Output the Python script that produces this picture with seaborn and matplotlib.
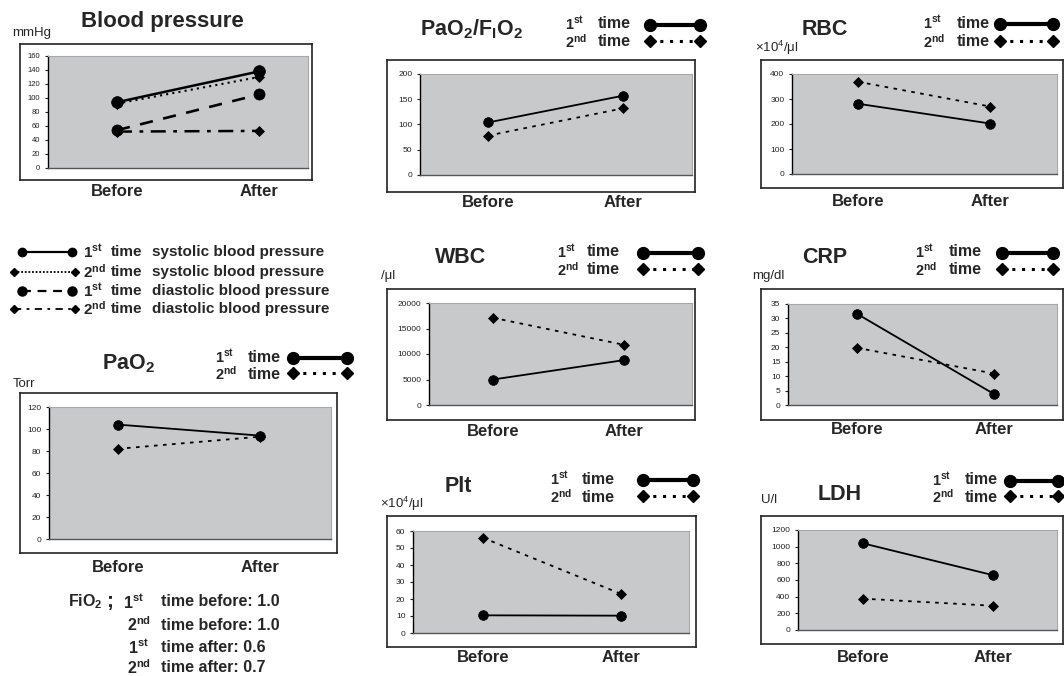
import numpy as np
import pandas as pd
import matplotlib
matplotlib.use("Agg")
import matplotlib.pyplot as plt
from matplotlib.lines import Line2D
import seaborn as sns

# --- data ---
categories = ["Before", "After"]

bp_sys_1st = [94, 138]
bp_sys_2nd = [92, 130]
bp_dia_1st = [54, 105]
bp_dia_2nd = [52, 53]

pao2_1st = [104, 94]
pao2_2nd = [82, 93]

pf_1st = [104, 157]
pf_2nd = [78, 132]

wbc_1st = [5000, 8800]
wbc_2nd = [17100, 11800]

plt_1st = [10.4, 10.2]
plt_2nd = [56, 23]

rbc_1st = [281, 202]
rbc_2nd = [369, 270]

crp_1st = [31.6, 3.8]
crp_2nd = [19.8, 10.9]

ldh_1st = [1040, 658]
ldh_2nd = [376, 291]

# --- style ---
sns.set_style("white")
plt.rcParams['font.family'] = ['Liberation Sans', 'DejaVu Sans']
plt.rcParams['mathtext.fontset'] = 'custom'
plt.rcParams['mathtext.rm'] = 'Liberation Sans'
plt.rcParams['mathtext.bf'] = 'Liberation Sans:bold'
plt.rcParams['mathtext.it'] = 'Liberation Sans:italic'

W, H = 1064, 676
GRAY = '#c8c9cb'

fig = plt.figure(figsize=(W / 100, H / 100), dpi=100)


def fbox(x0, y0, x1, y1):
    return [x0 / W, 1 - y1 / H, (x1 - x0) / W, (y1 - y0) / H]


def fx(x):
    return x / W


def fy(y):
    return 1 - y / H


def panel(box, gray, marks, yticks, series, tick_fs, label_top):
    frame = fig.add_axes(fbox(*box))
    frame.set_xticks([])
    frame.set_yticks([])
    frame.set_facecolor('white')
    for sp in frame.spines.values():
        sp.set_color('#222222')
        sp.set_linewidth(1.2)

    ax = fig.add_axes(fbox(*gray))
    ax.set_facecolor(GRAY)
    for values, ls, lw, mk, ms in series:
        sns.lineplot(x=categories, y=values, ax=ax, color='black', sort=False,
                     errorbar=None, linestyle=ls, linewidth=lw, marker=mk,
                     markersize=ms, markeredgecolor='black', markeredgewidth=0.5)

    # place Before/After so the markers land where the reference has them
    s = marks[1] - marks[0]
    ax.set_xlim((gray[0] - marks[0]) / s, (gray[2] - marks[0]) / s)
    ax.set_ylim(yticks[0], yticks[-1])
    ax.set_yticks(yticks)
    ax.tick_params(axis='y', labelsize=tick_fs, length=2.5, width=0.8, pad=3,
                   left=True, colors='#222222')
    pad = (label_top - gray[3] - 3) * 0.72
    ax.tick_params(axis='x', length=0, labelsize=12, pad=pad)
    for t in ax.get_xticklabels():
        t.set_fontweight('bold')
    ax.set_xlabel('')
    ax.set_ylabel('')
    ax.spines['left'].set_color('black')
    ax.spines['left'].set_linewidth(1.0)
    ax.spines['bottom'].set_color('#555555')
    ax.spines['bottom'].set_linewidth(1.0)
    ax.spines['top'].set_color('#a8a8a8')
    ax.spines['right'].set_color('#a8a8a8')
    ax.spines['top'].set_linewidth(0.8)
    ax.spines['right'].set_linewidth(0.8)
    return ax


def small_legend(x_num, x_time, lx0, lx1, y1, y2):
    ty1, ty2 = y1 - 1, y2 + 1
    for y, num in [(ty1, r"1$^{\mathbf{st}}$"), (ty2, r"2$^{\mathbf{nd}}$")]:
        fig.text(fx(x_num), fy(y), num, fontsize=10.5, fontweight='bold', va='center')
        fig.text(fx(x_time), fy(y), "time", fontsize=11.5, fontweight='bold', va='center')
    fig.add_artist(Line2D([fx(lx0), fx(lx1)], [fy(y1), fy(y1)], transform=fig.transFigure,
                          color='black', lw=3, marker='o', ms=8.5))
    fig.add_artist(Line2D([fx(lx0), fx(lx1)], [fy(y2), fy(y2)], transform=fig.transFigure,
                          color='black', lw=2.2, linestyle=(0, (1, 2.2)), marker='D', ms=6.5))


solid = '-'
dots = (0, (2, 3))

# Blood pressure
panel((20, 44, 312, 180), (48, 56, 308, 168), (117, 259), np.arange(0, 161, 20),
      [(bp_dia_2nd, (0, (6, 3, 1.5, 3)), 1.8, 'D', 5),
       (bp_sys_2nd, (0, (1, 2)), 1.5, 'D', 5),
       (bp_dia_1st, (0, (5, 4)), 1.9, 'o', 8),
       (bp_sys_1st, solid, 1.8, 'o', 8.5)],
      5.5, 187)
fig.text(fx(162), fy(27), "Blood pressure", fontsize=16, fontweight='bold', ha='center')
fig.text(fx(12), fy(36), "mmHg", fontsize=9.5)

# BP legend
bp_rows = [(252, r"1$^{\mathbf{st}}$", "systolic blood pressure", solid, 1.6, 'o', 6, 22, 72),
           (272, r"2$^{\mathbf{nd}}$", "systolic blood pressure", (0, (1, 1)), 1.3, 'D', 4.5, 14, 75),
           (291, r"1$^{\mathbf{st}}$", "diastolic blood pressure", (0, (4, 3)), 1.6, 'o', 6.5, 22, 72),
           (309, r"2$^{\mathbf{nd}}$", "diastolic blood pressure", (0, (4, 3, 1.5, 3)), 1.3, 'D', 4.5, 14, 75)]
for y, num, desc, ls, lw, mk, ms, lx0, lx1 in bp_rows:
    fig.add_artist(Line2D([fx(lx0), fx(lx1)], [fy(y), fy(y)], transform=fig.transFigure,
                          color='black', lw=lw, linestyle=ls, marker=mk, ms=ms))
    fig.text(fx(83), fy(y), num, fontsize=11, fontweight='bold', va='center')
    fig.text(fx(111), fy(y), "time", fontsize=11, fontweight='bold', va='center')
    fig.text(fx(152), fy(y), desc, fontsize=11, fontweight='bold', va='center')

# PaO2
panel((20, 393, 337, 553), (49, 407, 331, 539), (118, 260), np.arange(0, 121, 20),
      [(pao2_2nd, dots, 1.3, 'D', 5.5), (pao2_1st, solid, 1.3, 'o', 7)], 6, 563)
fig.text(fx(128), fy(369), r"PaO$_{\mathbf{2}}$", fontsize=15.5, fontweight='bold', ha='center')
fig.text(fx(13), fy(387), "Torr", fontsize=9.5)
small_legend(215, 248, 293, 347, 358, 373)

fio2_rows = [(602, r"1$^{\mathbf{st}}$", 123, "time before: 1.0"),
             (625, r"2$^{\mathbf{nd}}$", 127, "time before: 1.0"),
             (647, r"1$^{\mathbf{st}}$", 128, "time after: 0.6"),
             (668, r"2$^{\mathbf{nd}}$", 127, "time after: 0.7")]
fig.text(fx(68), fy(602), r"FiO$_{\mathbf{2}}$", fontsize=11.5, fontweight='bold', va='center')
fig.text(fx(106), fy(602), ";", fontsize=15, fontweight='bold', va='center')
for y, num, xn, desc in fio2_rows:
    fig.text(fx(xn), fy(y), num, fontsize=11.5, fontweight='bold', va='center')
    fig.text(fx(161), fy(y), desc, fontsize=11.5, fontweight='bold', va='center')

# PaO2/FIO2
panel((387, 60, 695, 192), (420, 74, 692, 175), (488, 623), np.arange(0, 201, 50),
      [(pf_2nd, dots, 1.3, 'D', 5.5), (pf_1st, solid, 1.3, 'o', 7)], 6, 198)
fig.text(fx(471), fy(35), r"PaO$_{\mathbf{2}}$/F$_{\mathbf{I}}$O$_{\mathbf{2}}$",
         fontsize=15.5, fontweight='bold', ha='center')
small_legend(565, 598, 650, 700, 25, 41)

# WBC
panel((387, 289, 695, 420), (429, 303, 692, 405), (493, 624), np.arange(0, 20001, 5000),
      [(wbc_2nd, dots, 1.3, 'D', 5.5), (wbc_1st, solid, 1.3, 'o', 7)], 6, 427)
fig.text(fx(461), fy(263), "WBC", fontsize=15.5, fontweight='bold', ha='center')
fig.text(fx(381), fy(279), "/μl", fontsize=9.5)
small_legend(557, 587, 643, 698, 253, 269)

# Plt
panel((387, 516, 696, 647), (413, 531, 689, 633), (483, 621), np.arange(0, 61, 10),
      [(plt_2nd, dots, 1.3, 'D', 5.5), (plt_1st, solid, 1.3, 'o', 7)], 6, 653)
fig.text(fx(458), fy(492), "Plt", fontsize=15.5, fontweight='bold', ha='center')
fig.text(fx(380), fy(508), r"×10$^{4}$/μl", fontsize=9.5)
small_legend(550, 582, 643, 693, 480, 496)

# RBC
panel((761, 60, 1063, 188), (792, 74, 1057, 174), (858, 990), np.arange(0, 401, 100),
      [(rbc_2nd, dots, 1.3, 'D', 5.5), (rbc_1st, solid, 1.3, 'o', 7)], 6, 197)
fig.text(fx(825), fy(35), "RBC", fontsize=15.5, fontweight='bold', ha='center')
fig.text(fx(755), fy(52), r"×10$^{4}$/μl", fontsize=9.5)
small_legend(923, 957, 1000, 1053, 24, 41)

# CRP
panel((761, 289, 1063, 420), (788, 304, 1057, 405), (857, 994), np.arange(0, 36, 5),
      [(crp_2nd, dots, 1.3, 'D', 5.5), (crp_1st, solid, 1.3, 'o', 7)], 6, 425)
fig.text(fx(825), fy(263), "CRP", fontsize=15.5, fontweight='bold', ha='center')
fig.text(fx(752), fy(279), "mg/dl", fontsize=9.5)
small_legend(915, 949, 1002, 1053, 253, 269)

# LDH
panel((761, 516, 1063, 644), (798, 530, 1057, 630), (863, 993), np.arange(0, 1201, 200),
      [(ldh_2nd, dots, 1.3, 'D', 5.5), (ldh_1st, solid, 1.3, 'o', 7)], 6, 653)
fig.text(fx(840), fy(500), "LDH", fontsize=15.5, fontweight='bold', ha='center')
fig.text(fx(761), fy(503), "U/l", fontsize=9.5)
small_legend(932, 965, 1010, 1058, 481, 496)

fig.savefig("out.png", dpi=100)
